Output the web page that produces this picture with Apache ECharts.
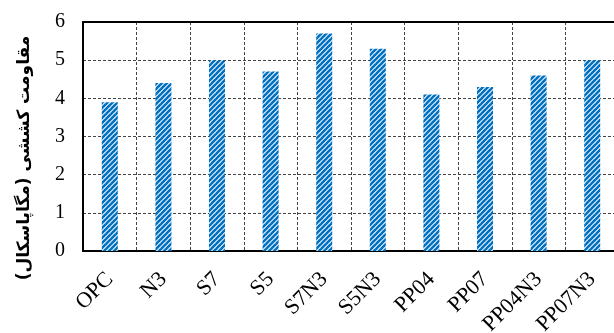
<!DOCTYPE html>
<html><head><meta charset="utf-8">
<script src="https://cdn.jsdelivr.net/npm/echarts@6/dist/echarts.min.js"></script>
<style>html,body{margin:0;padding:0;background:#fff}#c{width:614px;height:333px}</style>
</head><body><div id="c"></div>
<script>
const categories = ['OPC','N3','S7','S5','S7N3','S5N3','PP04','PP07','PP04N3','PP07N3'];
const values = [3.9, 4.4, 5.0, 4.7, 5.7, 5.3, 4.1, 4.3, 4.6, 5.0];
const yTicks = [0,1,2,3,4,5,6];
const yTitle = 'مقاومت کششی (مگاپاسکال)';

function stripePattern(){
  const s = 5;
  const c = document.createElement('canvas');
  c.width = s; c.height = s;
  const g = c.getContext('2d');
  g.fillStyle = '#ffffff'; g.fillRect(0,0,s,s);
  g.strokeStyle = '#0070C0'; g.lineWidth = 2.6;
  for (let k=-1;k<=1;k++){
    g.beginPath();
    g.moveTo(k*s - 1, s + 1);
    g.lineTo(k*s + s + 1, -1);
    g.stroke();
  }
  return c;
}

const chart = echarts.init(document.getElementById('c'));
chart.setOption({
  animation:false,
  grid:{left:83, top:22, width:536, height:229, containLabel:false, outerBoundsMode:'none'},
  xAxis:[{
    type:'category', data:categories, boundaryGap:true,
    axisLine:{lineStyle:{color:'#000', width:2}},
    axisTick:{show:false},
    axisLabel:{rotate:45, interval:0, margin:25, color:'#000', fontFamily:'Liberation Serif', fontSize:22, hideOverlap:false},
    splitLine:{show:true, interval:0, lineStyle:{type:[3,2], color:'#444', width:1}}
  },{
    type:'category', data:categories, position:'top',
    axisLine:{lineStyle:{color:'#000', width:2}},
    axisTick:{show:false}, axisLabel:{show:false}, splitLine:{show:false}
  }],
  yAxis:{
    type:'value', min:yTicks[0], max:yTicks[yTicks.length-1], interval:1,
    axisLine:{show:true, lineStyle:{color:'#000', width:2}},
    axisTick:{show:false},
    axisLabel:{margin:18, color:'#000', fontFamily:'Liberation Serif', fontSize:20},
    splitLine:{show:true, lineStyle:{type:[3,2], color:'#444', width:1}}
  },
  graphic:[{
    type:'text', x:25, y:158, rotation:Math.PI/2,
    style:{text:yTitle, fontFamily:'DejaVu Sans', fontWeight:'bold', fontSize:17, fill:'#000', align:'center', verticalAlign:'middle'}
  }],
  series:[{
    type:'bar', data:values, barWidth:16, xAxisIndex:0,
    itemStyle:{color:{image:stripePattern(), repeat:'repeat'}}
  }]
});
</script></body></html>
